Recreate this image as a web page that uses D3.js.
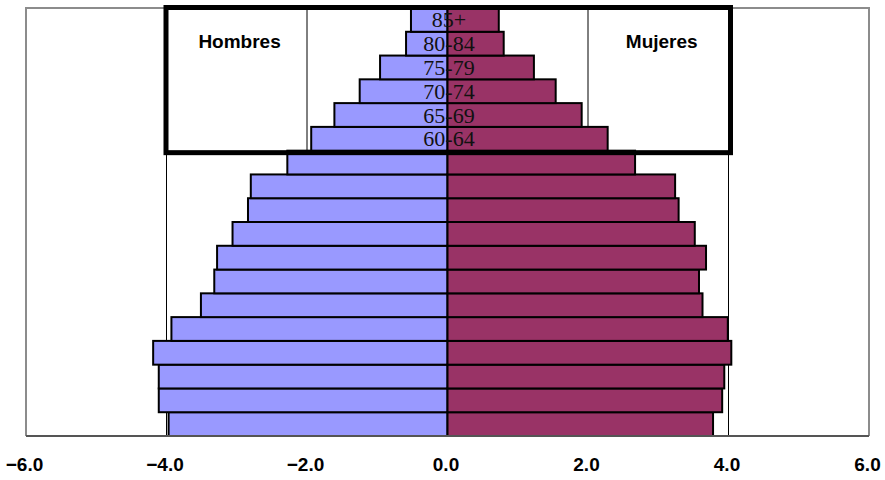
<!DOCTYPE html>
<html>
<head>
<meta charset="utf-8">
<script src="https://cdnjs.cloudflare.com/ajax/libs/d3/7.8.5/d3.min.js"></script>
<style>
  body { margin: 0; background: #fff; }
  .age { font-family: "Liberation Serif", "Times New Roman", serif; font-size: 22px; fill: #111; }
  .sex { font-family: "Liberation Sans", Arial, sans-serif; font-size: 19px; font-weight: bold; fill: #000; }
  .tick text { font-family: "Liberation Sans", Arial, sans-serif; font-size: 19px; font-weight: bold; fill: #000; }
</style>
</head>
<body>
<div id="chart"></div>
<script>

// grupos de edad, de abajo hacia arriba
var ages = ["0-4", "5-9", "10-14", "15-19", "20-24", "25-29", "30-34", "35-39", "40-44",
            "45-49", "50-54", "55-59", "60-64", "65-69", "70-74", "75-79", "80-84", "85+"];

// porcentaje de la poblacion
var hombres = [3.97, 4.11, 4.11, 4.19, 3.93, 3.51, 3.32, 3.28, 3.06,
               2.84, 2.80, 2.28, 1.94, 1.61, 1.25, 0.96, 0.59, 0.52];
var mujeres = [3.78, 3.91, 3.94, 4.04, 3.99, 3.63, 3.58, 3.68, 3.52,
               3.29, 3.24, 2.67, 2.28, 1.91, 1.54, 1.23, 0.80, 0.73];

var xTicks = [-6, -4, -2, 0, 2, 4, 6];
var labeledAges = ["60-64", "65-69", "70-74", "75-79", "80-84", "85+"];

var margin = {top: 8, right: 16, bottom: 44, left: 26},
    width = 885 - margin.left - margin.right,
    height = 480 - margin.top - margin.bottom;

var svg = d3.select("#chart").append("svg")
    .attr("width", 885)
    .attr("height", 480)
  .append("g")
    .attr("transform", "translate(" + margin.left + "," + margin.top + ")");

var x = d3.scaleLinear().domain([-6, 6]).range([0, width]);
var y = d3.scaleBand()
    .domain(ages.slice().reverse())
    .range([0, height])
    .padding(0);

// lineas verticales de la cuadricula
svg.selectAll(".grid")
    .data(xTicks.filter(function(d) { return d != 0 && Math.abs(d) != 6; }))
  .enter().append("line")
    .attr("class", "grid")
    .attr("x1", function(d) { return x(d); })
    .attr("x2", function(d) { return x(d); })
    .attr("y1", 0)
    .attr("y2", height)
    .attr("stroke", "#000")
    .attr("stroke-width", 1);

var data = ages.map(function(a, i) {
  return {age: a, h: hombres[i], m: mujeres[i]};
});

svg.selectAll(".bar-h")
    .data(data)
  .enter().append("rect")
    .attr("class", "bar-h")
    .attr("x", function(d) { return x(-d.h); })
    .attr("y", function(d) { return y(d.age); })
    .attr("width", function(d) { return x(0) - x(-d.h); })
    .attr("height", y.bandwidth())
    .attr("fill", "#9999ff")
    .attr("stroke", "#000")
    .attr("stroke-width", 2);

svg.selectAll(".bar-m")
    .data(data)
  .enter().append("rect")
    .attr("class", "bar-m")
    .attr("x", x(0))
    .attr("y", function(d) { return y(d.age); })
    .attr("width", function(d) { return x(d.m) - x(0); })
    .attr("height", y.bandwidth())
    .attr("fill", "#993366")
    .attr("stroke", "#000")
    .attr("stroke-width", 2);

// marco del grafico
svg.append("path")
    .attr("d", "M0," + height + "V0H" + width + "V" + height)
    .attr("fill", "none")
    .attr("stroke", "#8c8c8c")
    .attr("stroke-width", 2);

svg.append("line")
    .attr("x1", 0).attr("x2", width)
    .attr("y1", height).attr("y2", height)
    .attr("stroke", "#555")
    .attr("stroke-width", 2);

// eje x
var xAxis = svg.append("g")
    .attr("transform", "translate(0," + height + ")")
    .call(d3.axisBottom(x).tickValues(xTicks).tickSize(0).tickPadding(29)
      .tickFormat(d3.format(".1f")));
xAxis.select(".domain").remove();
xAxis.selectAll(".tick text").attr("dy", "0.3em").attr("dx", -2);

// etiquetas de edad
svg.selectAll(".age")
    .data(labeledAges)
  .enter().append("text")
    .attr("class", "age")
    .attr("x", x(0) + 1.5)
    .attr("y", function(d) { return y(d) + y.bandwidth() / 2 + 7.5; })
    .attr("text-anchor", "middle")
    .text(function(d) { return d; });

// recuadro
svg.append("rect")
    .attr("x", x(-4) - 0.5)
    .attr("y", -0.5)
    .attr("width", x(4) + 2 - x(-4) + 0.5)
    .attr("height", y("60-64") + y.bandwidth() + 2.5)
    .attr("fill", "none")
    .attr("stroke", "#000")
    .attr("stroke-width", 5);

svg.append("text")
    .attr("class", "sex")
    .attr("x", x(-2.96))
    .attr("y", 40.3)
    .attr("text-anchor", "middle")
    .text("Hombres");

svg.append("text")
    .attr("class", "sex")
    .attr("x", x(3.05))
    .attr("y", 40.3)
    .attr("text-anchor", "middle")
    .text("Mujeres");

</script>
</body>
</html>
